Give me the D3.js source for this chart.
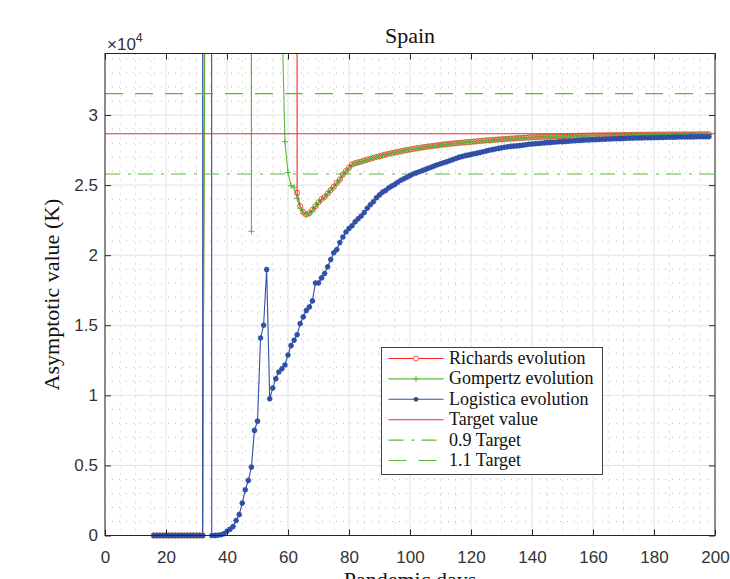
<!DOCTYPE html>
<html>
<head>
<meta charset="utf-8">
<script src="https://cdn.jsdelivr.net/npm/d3@7"></script>
<style>
body { margin: 0; background: #fff; }
</style>
</head>
<body>
<svg id="chart" width="730" height="579"></svg>
<script>
// one value per day, starting at firstDay
var firstDay = 16;

var richardsK = [
	0, 0, 0, 0, 0, 0, 0, 0, 0, 0, 0, 0, 0, 0, 0, 0, 0,
	61000, 185000, 240000, 312000, 275000, 410000, 520000, 390000, 460000, 610000,
	580000, 700000, 655000, 540000, 480000, 520000, 610000, 450000, 390000, 420000,
	360000, 330000, 470000, 510000, 440000, 380000, 350000, 420000, 390000, 400000,
	24450, 23500, 23080, 22900, 23000, 23230, 23500, 23780, 24000, 24150,
	24400, 24650, 24880, 25150, 25400, 25750, 26000, 26250, 26480, 26560,
	26620, 26680, 26750, 26820, 26880, 26950, 27010, 27060, 27120, 27180,
	27230, 27280, 27330, 27370, 27410, 27460, 27500, 27540, 27580, 27620,
	27650, 27690, 27720, 27750, 27780, 27810, 27840, 27870, 27900, 27920,
	27940, 27970, 27990, 28010, 28030, 28050, 28070, 28090, 28110, 28130,
	28150, 28170, 28190, 28200, 28220, 28240, 28260, 28270, 28290, 28300,
	28320, 28330, 28350, 28360, 28370, 28390, 28400, 28410, 28420, 28430,
	28440, 28445, 28450, 28460, 28470, 28480, 28485, 28490, 28500, 28505,
	28510, 28515, 28520, 28525, 28530, 28535, 28540, 28545, 28550, 28552,
	28555, 28560, 28562, 28565, 28570, 28572, 28575, 28578, 28580, 28585,
	28588, 28590, 28595, 28598, 28600, 28602, 28605, 28607, 28608, 28610,
	28612, 28613, 28615, 28616, 28617, 28618, 28619, 28620, 28621, 28622,
	28623, 28624, 28625, 28626, 28627, 28628
];

var gompertzK = [
	0, 0, 0, 0, 0, 0, 0, 0, 0, 0, 0, 0, 0, 0, 0, 0, 0,
	48000, 210000, 260000, 330000, 300000, 420000, 380000, 450000, 510000, 470000,
	530000, 600000, 560000, 620000, 500000, 21700, 480000, 450000, 390000, 420000,
	360000, 300000, 250000, 180000, 95000, 37000, 28100, 25900, 24950, 24850,
	24050, 23350, 22980, 22870, 22960, 23200, 23470, 23750, 23970, 24130,
	24380, 24630, 24860, 25130, 25380, 25720, 25980, 26230, 26460, 26540,
	26600, 26660, 26730, 26800, 26860, 26930, 26990, 27040, 27100, 27160,
	27210, 27260, 27310, 27350, 27390, 27440, 27480, 27520, 27560, 27600,
	27630, 27670, 27700, 27730, 27760, 27790, 27820, 27850, 27880, 27900,
	27920, 27950, 27970, 27990, 28010, 28030, 28050, 28070, 28090, 28110,
	28130, 28150, 28170, 28180, 28200, 28220, 28240, 28250, 28270, 28280,
	28300, 28310, 28330, 28340, 28350, 28370, 28380, 28390, 28400, 28410,
	28420, 28425, 28430, 28440, 28450, 28460, 28465, 28470, 28480, 28485,
	28490, 28495, 28500, 28505, 28510, 28515, 28520, 28525, 28530, 28532,
	28535, 28540, 28542, 28545, 28550, 28552, 28555, 28558, 28560, 28565,
	28568, 28570, 28575, 28578, 28580, 28582, 28585, 28588, 28590, 28592,
	28594, 28596, 28598, 28600, 28602, 28604, 28606, 28608, 28610, 28612,
	28613, 28614, 28615, 28616, 28617, 28618
];

var logisticaK = [
	0, 0, 0, 0, 0, 0, 0, 0, 0, 0, 0, 0, 0, 0, 0, 0, 0,
	900000, 850000,
	0, 10, 20, 50, 120, 300, 450, 640, 1070, 1500,
	2310, 3260, 3930, 4880, 7500, 8160, 14090, 15000, 18980, 9760,
	10520, 11190, 11670, 11900, 12170, 12880, 13550, 13930, 14330, 15120,
	15600, 16050, 16310, 16740, 18020, 18020, 18380, 18690, 19170, 19690,
	20170, 20400, 20900, 21300, 21650, 21900, 22100, 22380, 22600, 22800,
	23050, 23350, 23600, 23810, 24100, 24300, 24500, 24620, 24800, 24930,
	25050, 25200, 25350, 25450, 25560, 25680, 25790, 25870, 25950, 26030,
	26110, 26200, 26280, 26370, 26450, 26520, 26600, 26660, 26740, 26820,
	26900, 26980, 27040, 27100, 27140, 27190, 27240, 27280, 27330, 27380,
	27440, 27490, 27530, 27580, 27620, 27660, 27700, 27740, 27760, 27780,
	27800, 27820, 27850, 27880, 27910, 27930, 27950, 27970, 27990, 28010,
	28030, 28050, 28060, 28075, 28090, 28105, 28120, 28135, 28150, 28165,
	28180, 28195, 28210, 28220, 28230, 28240, 28250, 28260, 28270, 28280,
	28290, 28295, 28305, 28310, 28320, 28330, 28340, 28345, 28355, 28360,
	28365, 28370, 28375, 28380, 28385, 28390, 28395, 28400, 28405, 28410,
	28415, 28420, 28425, 28430, 28432, 28435, 28437, 28440, 28442, 28445,
	28447, 28450, 28452, 28455
];

var targetValue = 28660;
var targetFactors = [1.0, 0.9, 1.1];

var xTicks = [0, 20, 40, 60, 80, 100, 120, 140, 160, 180, 200];
var yTicks = [0, 5000, 10000, 15000, 20000, 25000, 30000];
var yTickLabels = ["0", "0.5", "1", "1.5", "2", "2.5", "3"];

var legendLabels = ["Richards evolution", "Gompertz evolution", "Logistica evolution",
	"Target value", "0.9 Target", "1.1 Target"];

var X_MAX = 200;
var Y_MAX = 34390;

var RED = "#ff2020";
var GREEN = "#5cb83a";
var BLUE = "#3050a8";
var AXIS = "#262626";
var SERIF = "'Liberation Serif', 'Times New Roman', serif";
var SANS = "'Liberation Sans', Arial, sans-serif";


function toPoints(values) {
	var pts = [];
	for (var i = 0; i < values.length; i++) {
		pts.push({ day: firstDay + i, k: values[i] });
	}
	return pts;
}

// marker shapes, drawn around 0,0
function plusPath(r) {
	return "M" + (-r) + ",0L" + r + ",0M0," + (-r) + "L0," + r;
}

function starPath(r) {
	var d = r * 0.7;
	return plusPath(r) + "M" + (-d) + "," + (-d) + "L" + d + "," + d +
		"M" + (-d) + "," + d + "L" + d + "," + (-d);
}


function draw_chart() {
	var svg = d3.select("#chart"),
		margin = { top: 53.5, right: 15, bottom: 43.5, left: 105 },
		width = +svg.attr("width") - margin.left - margin.right,
		height = +svg.attr("height") - margin.top - margin.bottom,
		g = svg.append("g").attr("transform", "translate(" + margin.left + "," + margin.top + ")");

	var x = d3.scaleLinear().domain([0, X_MAX]).range([0, width]);
	var y = d3.scaleLinear().domain([0, Y_MAX]).range([height, 0]);

	g.append("rect").attr("width", width).attr("height", height).attr("fill", "#fff");

	// minor grid (dotted)
	var minorX = d3.range(0, X_MAX + 1, 5).filter(function (v) { return v % 20 !== 0; });
	var minorY = d3.range(0, Y_MAX, 1000).filter(function (v) { return v % 5000 !== 0; });

	g.selectAll(".minor-x").data(minorX).enter().append("line")
		.attr("x1", function (d) { return x(d); }).attr("x2", function (d) { return x(d); })
		.attr("y1", 0).attr("y2", height)
		.attr("stroke", "#bcbcbc").attr("stroke-width", 1)
		.attr("stroke-dasharray", "1,6");

	g.selectAll(".minor-y").data(minorY).enter().append("line")
		.attr("y1", function (d) { return y(d); }).attr("y2", function (d) { return y(d); })
		.attr("x1", 0).attr("x2", width)
		.attr("stroke", "#bcbcbc").attr("stroke-width", 1)
		.attr("stroke-dasharray", "1,6");

	// major grid
	g.selectAll(".major-x").data(xTicks).enter().append("line")
		.attr("x1", function (d) { return x(d); }).attr("x2", function (d) { return x(d); })
		.attr("y1", 0).attr("y2", height)
		.attr("stroke", "#e2e2e2").attr("stroke-width", 1);

	g.selectAll(".major-y").data(yTicks).enter().append("line")
		.attr("y1", function (d) { return y(d); }).attr("y2", function (d) { return y(d); })
		.attr("x1", 0).attr("x2", width)
		.attr("stroke", "#e2e2e2").attr("stroke-width", 1);

	svg.append("defs").append("clipPath").attr("id", "plot-clip")
		.append("rect").attr("width", width).attr("height", height);

	var plot = g.append("g").attr("clip-path", "url(#plot-clip)");
	var marks = g.append("g");

	var line = d3.line()
		.x(function (d) { return x(d.day); })
		.y(function (d) { return y(d.k); });

	function inside(d) {
		return d.k >= 0 && d.k <= Y_MAX;
	}

	// Richards
	var rPts = toPoints(richardsK);
	plot.append("path").datum(rPts).attr("d", line)
		.attr("fill", "none").attr("stroke", RED).attr("stroke-width", 1.1);
	marks.selectAll(".r-mark").data(rPts.filter(inside)).enter().append("circle")
		.attr("cx", function (d) { return x(d.day); })
		.attr("cy", function (d) { return y(d.k); })
		.attr("r", 2.6).attr("fill", "none").attr("stroke", RED).attr("stroke-width", 0.8);

	// Gompertz
	var gPts = toPoints(gompertzK);
	plot.append("path").datum(gPts).attr("d", line)
		.attr("fill", "none").attr("stroke", GREEN).attr("stroke-width", 1.1);
	marks.selectAll(".g-mark").data(gPts.filter(inside)).enter().append("path")
		.attr("transform", function (d) { return "translate(" + x(d.day) + "," + y(d.k) + ")"; })
		.attr("d", plusPath(3)).attr("stroke", GREEN).attr("stroke-width", 1);

	// Logistica
	var lPts = toPoints(logisticaK);
	plot.append("path").datum(lPts).attr("d", line)
		.attr("fill", "none").attr("stroke", BLUE).attr("stroke-width", 1.1);
	marks.selectAll(".l-mark").data(lPts.filter(inside)).enter().append("path")
		.attr("transform", function (d) { return "translate(" + x(d.day) + "," + y(d.k) + ")"; })
		.attr("d", starPath(2.8)).attr("stroke", BLUE).attr("stroke-width", 1.6);

	// target levels
	var targetStyles = [
		{ color: RED, dash: null },
		{ color: GREEN, dash: "15,8,3,7" },
		{ color: GREEN, dash: "18,12" }
	];
	for (var i = 0; i < targetFactors.length; i++) {
		plot.append("line")
			.attr("x1", 0).attr("x2", width)
			.attr("y1", y(targetValue * targetFactors[i]))
			.attr("y2", y(targetValue * targetFactors[i]))
			.attr("stroke", targetStyles[i].color).attr("stroke-width", 1.1)
			.attr("stroke-dasharray", targetStyles[i].dash);
	}

	// axes, ticks pointing inward
	var xAxis = g.append("g").attr("transform", "translate(0," + height + ")")
		.call(d3.axisBottom(x).tickValues(xTicks).tickSizeInner(-6).tickSizeOuter(0).tickPadding(15));
	var yAxis = g.append("g")
		.call(d3.axisLeft(y).tickValues(yTicks).tickSizeInner(-6).tickSizeOuter(0).tickPadding(7)
			.tickFormat(function (d, i) { return yTickLabels[i]; }));
	var xTop = g.append("g")
		.call(d3.axisTop(x).tickValues(xTicks).tickSizeInner(-6).tickSizeOuter(0).tickFormat(""));
	var yRight = g.append("g").attr("transform", "translate(" + width + ",0)")
		.call(d3.axisRight(y).tickValues(yTicks).tickSizeInner(-6).tickSizeOuter(0).tickFormat(""));

	[xAxis, yAxis, xTop, yRight].forEach(function (ax) {
		ax.select(".domain").remove();
		ax.selectAll(".tick line").attr("stroke", AXIS);
		ax.selectAll(".tick text").attr("fill", "#333").style("font-family", SANS).style("font-size", "17px");
	});

	g.append("rect").attr("width", width).attr("height", height)
		.attr("fill", "none").attr("stroke", AXIS).attr("stroke-width", 1);

	// exponent
	var expo = svg.append("text").attr("x", 107).attr("y", 49.5)
		.attr("fill", "#333").style("font-family", SANS).style("font-size", "17px");
	expo.append("tspan").text("\u00d710");
	expo.append("tspan").attr("dy", -8).style("font-size", "12.5px").text("4");

	// title and labels
	svg.append("text").attr("x", margin.left + width / 2).attr("y", 43)
		.attr("text-anchor", "middle").attr("fill", "#111")
		.style("font-family", SERIF).style("font-size", "22px").text("Spain");

	svg.append("text").attr("x", margin.left + width / 2).attr("y", 587)
		.attr("text-anchor", "middle").attr("fill", "#111")
		.style("font-family", SERIF).style("font-size", "22px").text("Pandemic days");

	svg.append("text").attr("transform", "translate(59," + (margin.top + height / 2) + ") rotate(-90)")
		.attr("text-anchor", "middle").attr("fill", "#111")
		.style("font-family", SERIF).style("font-size", "22px").text("Asymptotic value (K)");

	// legend
	var leg = svg.append("g").attr("transform", "translate(381.5,347.5)");
	leg.append("rect").attr("width", 221).attr("height", 127)
		.attr("fill", "#fff").attr("stroke", "#404040").attr("stroke-width", 1);

	var legendStyles = [
		{ color: RED, dash: null, marker: "circle" },
		{ color: GREEN, dash: null, marker: "plus" },
		{ color: BLUE, dash: null, marker: "dot" },
		{ color: RED, dash: null, marker: null },
		{ color: GREEN, dash: "15,8,3,7", marker: null },
		{ color: GREEN, dash: "18,12", marker: null }
	];

	for (var j = 0; j < legendLabels.length; j++) {
		var ry = 11 + j * 20.4;
		var st = legendStyles[j];
		leg.append("line").attr("x1", 7).attr("x2", 62).attr("y1", ry).attr("y2", ry)
			.attr("stroke", st.color).attr("stroke-width", 1.1)
			.attr("stroke-dasharray", st.dash);
		if (st.marker === "circle") {
			leg.append("circle").attr("cx", 34.5).attr("cy", ry).attr("r", 2.6)
				.attr("fill", "#fff").attr("stroke", st.color).attr("stroke-width", 0.8);
		} else if (st.marker === "plus") {
			leg.append("path").attr("transform", "translate(34.5," + ry + ")")
				.attr("d", plusPath(3)).attr("stroke", st.color).attr("stroke-width", 1);
		} else if (st.marker === "dot") {
			leg.append("circle").attr("cx", 34.5).attr("cy", ry).attr("r", 2.4).attr("fill", st.color);
		}
		leg.append("text").attr("x", 67.5).attr("y", ry + 5.5)
			.attr("fill", "#111").style("font-family", SERIF).style("font-size", "18px")
			.text(legendLabels[j]);
	}
}

draw_chart();
</script>
</body>
</html>
